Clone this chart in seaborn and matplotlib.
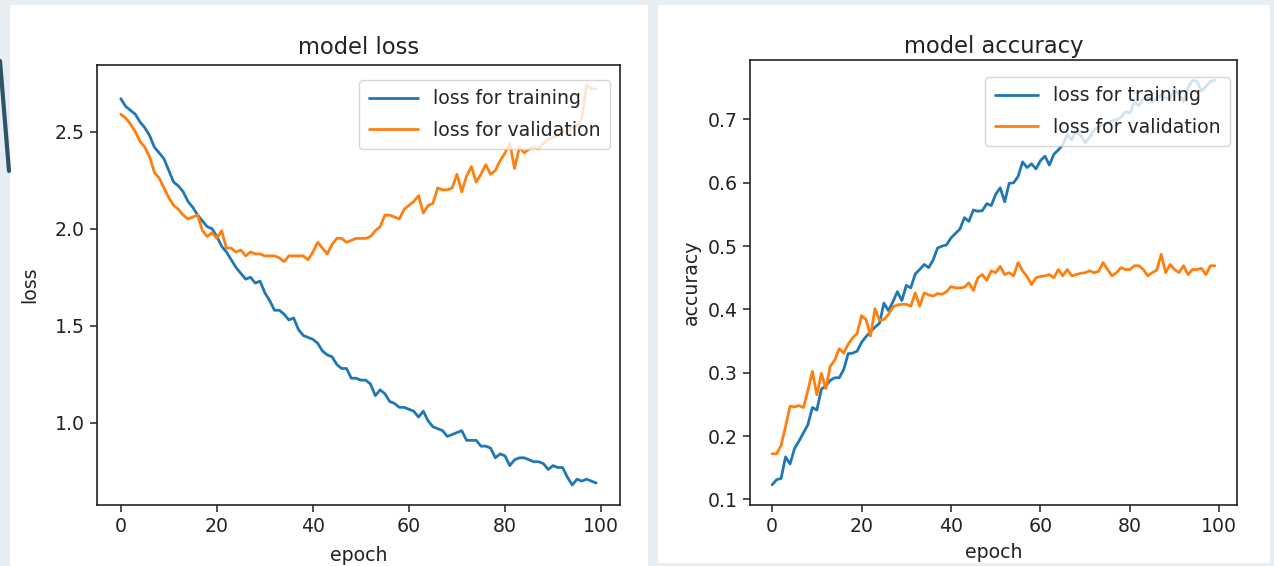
import numpy as np
import pandas as pd
import matplotlib.pyplot as plt
import seaborn as sns
from matplotlib.patches import Rectangle
from matplotlib.lines import Line2D

# Valores (100 épocas)
epochs = list(range(100))

train_loss = [
    2.67, 2.63, 2.61, 2.59, 2.55, 2.52, 2.48, 2.42, 2.39, 2.36,
    2.30, 2.24, 2.22, 2.19, 2.14, 2.11, 2.07, 2.04, 2.01, 2.00,
    1.96, 1.91, 1.88, 1.84, 1.80, 1.77, 1.74, 1.75, 1.72, 1.73,
    1.67, 1.63, 1.58, 1.58, 1.56, 1.53, 1.54, 1.48, 1.45, 1.44,
    1.43, 1.41, 1.37, 1.35, 1.34, 1.30, 1.28, 1.28, 1.23, 1.23,
    1.22, 1.22, 1.20, 1.14, 1.17, 1.15, 1.11, 1.10, 1.08, 1.08,
    1.07, 1.06, 1.03, 1.06, 1.01, 0.98, 0.97, 0.96, 0.93, 0.94,
    0.95, 0.96, 0.91, 0.91, 0.91, 0.88, 0.88, 0.87, 0.82, 0.84,
    0.83, 0.78, 0.81, 0.82, 0.82, 0.81, 0.80, 0.80, 0.79, 0.76,
    0.78, 0.77, 0.77, 0.72, 0.68, 0.71, 0.70, 0.71, 0.70, 0.69,
]

val_loss = [
    2.59, 2.57, 2.54, 2.50, 2.45, 2.42, 2.37, 2.29, 2.26, 2.21,
    2.16, 2.12, 2.10, 2.07, 2.05, 2.06, 2.07, 1.99, 1.96, 1.98,
    1.95, 1.99, 1.90, 1.90, 1.88, 1.89, 1.86, 1.88, 1.87, 1.87,
    1.86, 1.86, 1.86, 1.85, 1.83, 1.86, 1.86, 1.86, 1.86, 1.84,
    1.88, 1.93, 1.90, 1.87, 1.92, 1.95, 1.95, 1.93, 1.94, 1.95,
    1.95, 1.95, 1.96, 1.99, 2.01, 2.07, 2.07, 2.06, 2.05, 2.10,
    2.12, 2.14, 2.17, 2.08, 2.12, 2.13, 2.21, 2.20, 2.20, 2.21,
    2.28, 2.19, 2.27, 2.32, 2.24, 2.28, 2.33, 2.28, 2.30, 2.35,
    2.39, 2.44, 2.31, 2.42, 2.39, 2.41, 2.42, 2.41, 2.44, 2.46,
    2.47, 2.48, 2.50, 2.50, 2.52, 2.53, 2.57, 2.74, 2.72, 2.72,
]

train_acc = [
    0.123, 0.131, 0.133, 0.167, 0.156, 0.180, 0.192, 0.205, 0.218, 0.245,
    0.241, 0.274, 0.279, 0.288, 0.292, 0.292, 0.305, 0.330, 0.331, 0.334,
    0.348, 0.357, 0.365, 0.372, 0.378, 0.410, 0.398, 0.412, 0.428, 0.414,
    0.438, 0.434, 0.456, 0.463, 0.471, 0.466, 0.478, 0.497, 0.500, 0.502,
    0.513, 0.520, 0.527, 0.545, 0.539, 0.557, 0.555, 0.556, 0.567, 0.564,
    0.582, 0.592, 0.570, 0.599, 0.600, 0.610, 0.633, 0.624, 0.630, 0.622,
    0.635, 0.642, 0.628, 0.645, 0.652, 0.660, 0.676, 0.668, 0.682, 0.675,
    0.663, 0.672, 0.684, 0.688, 0.692, 0.695, 0.698, 0.700, 0.703, 0.712,
    0.710, 0.727, 0.722, 0.733, 0.735, 0.728, 0.733, 0.739, 0.733, 0.734,
    0.748, 0.740, 0.728, 0.750, 0.762, 0.760, 0.745, 0.752, 0.760, 0.762,
]

val_acc = [
    0.172, 0.172, 0.185, 0.215, 0.247, 0.246, 0.248, 0.245, 0.272, 0.302,
    0.265, 0.299, 0.275, 0.310, 0.320, 0.338, 0.331, 0.345, 0.355, 0.362,
    0.390, 0.384, 0.358, 0.401, 0.383, 0.384, 0.392, 0.404, 0.407, 0.408,
    0.408, 0.405, 0.426, 0.405, 0.426, 0.423, 0.421, 0.425, 0.424, 0.428,
    0.436, 0.434, 0.434, 0.435, 0.442, 0.430, 0.450, 0.455, 0.446, 0.461,
    0.458, 0.468, 0.455, 0.458, 0.453, 0.474, 0.461, 0.452, 0.439, 0.450,
    0.452, 0.453, 0.455, 0.450, 0.463, 0.453, 0.463, 0.453, 0.455, 0.457,
    0.458, 0.461, 0.458, 0.460, 0.474, 0.463, 0.453, 0.458, 0.466, 0.463,
    0.463, 0.469, 0.469, 0.463, 0.453, 0.458, 0.462, 0.487, 0.458, 0.471,
    0.463, 0.458, 0.469, 0.455, 0.463, 0.463, 0.465, 0.455, 0.469, 0.469,
]

labels = ['loss for training', 'loss for validation']
colores = ['#1f77b4', '#ff7f0e']

# Tablas en formato largo para seaborn
df_loss = pd.DataFrame({
    'epoch': epochs * 2,
    'valor': train_loss + val_loss,
    'serie': [labels[0]] * 100 + [labels[1]] * 100,
})
df_acc = pd.DataFrame({
    'epoch': epochs * 2,
    'valor': train_acc + val_acc,
    'serie': [labels[0]] * 100 + [labels[1]] * 100,
})

sns.set_style('ticks')
plt.rcParams['font.family'] = ['DejaVu Sans']
plt.rcParams['axes.edgecolor'] = '#222222'
plt.rcParams['axes.linewidth'] = 1.2
plt.rcParams['xtick.color'] = '#222222'
plt.rcParams['ytick.color'] = '#222222'

fig = plt.figure(figsize=(12.74, 5.66), dpi=100)
fig.patch.set_facecolor('#e6eef3')

# Paneles blancos de fondo (captura de diapositiva)
fig.patches.append(Rectangle((10 / 1274, 0), 638 / 1274, 561 / 566,
                             transform=fig.transFigure, facecolor='white',
                             edgecolor='none', zorder=-5))
fig.patches.append(Rectangle((658 / 1274, 3 / 566), 612 / 1274, 558 / 566,
                             transform=fig.transFigure, facecolor='white',
                             edgecolor='none', zorder=-5))
# trazo decorativo de la diapositiva a la izquierda
fig.lines.append(Line2D([0 / 1274, 9 / 1274], [505 / 566, 395 / 566],
                        transform=fig.transFigure, color='#2f5366',
                        linewidth=3, zorder=-4))

ax1 = fig.add_axes([97 / 1274, 61 / 566, 523 / 1274, 440 / 566])
ax2 = fig.add_axes([750 / 1274, 61 / 566, 487 / 1274, 445 / 566])

# (eje, datos, título, etiqueta y, pad título, pad ylabel, pad xlabel, ancla leyenda, largo asa)
paneles = [
    (ax1, df_loss, 'model loss', 'loss', 8, 11, 7, (0.981, 0.966), 2.6),
    (ax2, df_acc, 'model accuracy', 'accuracy', 5, 5, 5, (0.986, 0.962), 2.3),
]

for ax, data, titulo, ylab, tpad, ypad, xpad, ancla, hl in paneles:
    sns.lineplot(data=data, x='epoch', y='valor', hue='serie',
                 palette=colores, linewidth=2.0, ax=ax)
    ax.set_title(titulo, fontsize=16.3, color='#222222', pad=tpad)
    ax.set_xlabel('epoch', fontsize=13.6, color='#222222', labelpad=xpad)
    ax.set_ylabel(ylab, fontsize=13.6, color='#222222', labelpad=ypad)
    ax.tick_params(labelsize=13.6, length=4.8, width=1.1, pad=4)
    ax.set_xticks([0, 20, 40, 60, 80, 100])
    ax.margins(x=0.05, y=0.05)
    ax.legend(loc='upper right', bbox_to_anchor=ancla, borderaxespad=0,
              fontsize=13.6, framealpha=0.8, edgecolor='#cccccc',
              handlelength=hl, labelspacing=0.65, borderpad=0.5)

fig.savefig('out.png', dpi=100, facecolor=fig.get_facecolor())
